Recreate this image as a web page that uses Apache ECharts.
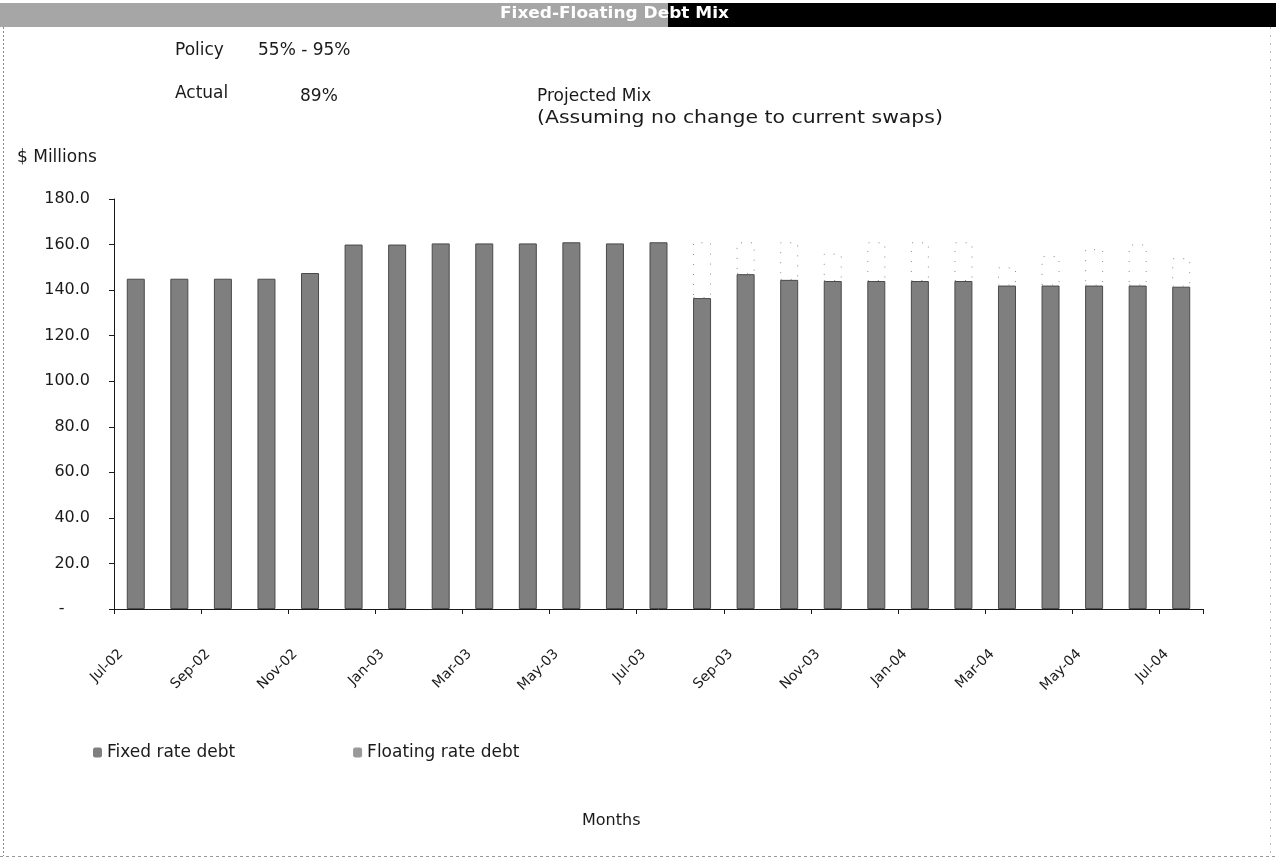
<!DOCTYPE html>
<html>
<head>
<meta charset="utf-8">
<script src="https://cdn.jsdelivr.net/npm/echarts@6/dist/echarts.min.js"></script>
<style>
  html, body { margin: 0; padding: 0; background: #ffffff; }
  #chart { width: 1276px; height: 863px; }
</style>
</head>
<body>
<div id="chart"></div>
<script>
// Month categories, Jul-02 through Jul-04
const months = [
  'Jul-02', 'Aug-02', 'Sep-02', 'Oct-02', 'Nov-02', 'Dec-02',
  'Jan-03', 'Feb-03', 'Mar-03', 'Apr-03', 'May-03', 'Jun-03',
  'Jul-03', 'Aug-03', 'Sep-03', 'Oct-03', 'Nov-03', 'Dec-03',
  'Jan-04', 'Feb-04', 'Mar-04', 'Apr-04', 'May-04', 'Jun-04', 'Jul-04'
];

// $ millions
const fixedDebt = [
  145, 145, 145, 145, 147.5, 160,
  160, 160.5, 160.5, 160.5, 161, 160.5,
  161, 136.5, 147, 144.5, 144, 144,
  144, 144, 142, 142, 142, 142, 141.5
];

// Floating portion of the projected months, stacked on the fixed portion
const floatingDebt = [
  null, null, null, null, null, null,
  null, null, null, null, null, null,
  null, 24.5, 14, 16.5, 12, 17,
  17, 17, 8, 13, 16, 18, 12.5
];

const yAxisMax = 180;
const yAxisStep = 20;

const FONT = 'DejaVu Sans';
const INK = '#1a1a1a';
const BAR_GREY = '#7f7f7f';

const chart = echarts.init(document.getElementById('chart'), null, { renderer: 'canvas' });

chart.setOption({
  animation: false,
  backgroundColor: '#ffffff',
  textStyle: { fontFamily: FONT, color: INK },
  grid: { left: 114, right: 73, top: 199, bottom: 254, containLabel: false },
  legend: {
    left: 88,
    top: 739,
    itemWidth: 9,
    itemHeight: 10,
    itemGap: 118,
    textStyle: { fontFamily: FONT, fontSize: 17, color: INK },
    data: [
      { name: 'Fixed rate debt', itemStyle: { color: BAR_GREY, borderWidth: 0 } },
      { name: 'Floating rate debt', itemStyle: { color: '#999999', borderWidth: 0 } }
    ]
  },
  xAxis: {
    type: 'category',
    data: months,
    boundaryGap: true,
    axisLine: { lineStyle: { color: INK, width: 1 } },
    axisTick: { show: true, interval: 1, length: 5, lineStyle: { color: INK } },
    axisLabel: {
      interval: 1,
      rotate: 45,
      margin: 28,
      padding: [0, 21, 0, 0],
      fontFamily: FONT,
      fontSize: 14,
      color: INK
    }
  },
  yAxis: {
    type: 'value',
    min: 0,
    max: yAxisMax,
    interval: yAxisStep,
    splitLine: { show: false },
    axisLine: { show: true, lineStyle: { color: INK, width: 1 } },
    axisTick: { show: true, length: 5, lineStyle: { color: INK } },
    axisLabel: {
      margin: 24,
      fontFamily: FONT,
      fontSize: 16,
      color: INK,
      formatter: v => (v === 0 ? '-     ' : v.toFixed(1))
    }
  },
  series: [
    {
      name: 'Fixed rate debt',
      type: 'bar',
      stack: 'debt',
      barWidth: 18,
      data: fixedDebt,
      itemStyle: { color: BAR_GREY, borderColor: '#4a4a4a', borderWidth: 1 }
    },
    {
      name: 'Floating rate debt',
      type: 'bar',
      stack: 'debt',
      barWidth: 18,
      data: floatingDebt,
      itemStyle: {
        color: 'rgba(255,255,255,0)',
        borderColor: '#8a8a8a',
        borderWidth: 1,
        borderType: [1, 9]
      }
    }
  ],
  graphic: [
    // heading band
    { type: 'rect', left: 0, top: 3, shape: { width: 668, height: 24 }, style: { fill: '#a6a6a6' }, silent: true },
    { type: 'rect', left: 668, top: 3, shape: { width: 608, height: 24 }, style: { fill: '#000000' }, silent: true },
    {
      type: 'text', x: 500, y: 6, scaleX: 1.06,
      style: { text: 'Fixed-Floating Debt Mix', fill: '#ffffff', font: 'bold 16px "DejaVu Sans"' }
    },
    // frame
    { type: 'line', shape: { x1: 3.5, y1: 27, x2: 3.5, y2: 856 }, style: { stroke: '#888', lineWidth: 1, lineDash: [2, 2] }, silent: true },
    { type: 'line', shape: { x1: 0, y1: 856.5, x2: 1276, y2: 856.5 }, style: { stroke: '#999', lineWidth: 1, lineDash: [3, 3] }, silent: true },
    { type: 'line', shape: { x1: 1270.5, y1: 27, x2: 1270.5, y2: 856 }, style: { stroke: '#bbb', lineWidth: 1, lineDash: [2, 6] }, silent: true },
    // annotations
    { type: 'text', x: 175, y: 42, style: { text: 'Policy', fill: INK, font: '17px "DejaVu Sans"' } },
    { type: 'text', x: 258, y: 42, style: { text: '55% - 95%', fill: INK, font: '17px "DejaVu Sans"' } },
    { type: 'text', x: 175, y: 85, style: { text: 'Actual', fill: INK, font: '17px "DejaVu Sans"' } },
    { type: 'text', x: 300, y: 88, style: { text: '89%', fill: INK, font: '17px "DejaVu Sans"' } },
    { type: 'text', x: 537, y: 88, style: { text: 'Projected Mix', fill: INK, font: '17px "DejaVu Sans"' } },
    { type: 'text', x: 537, y: 110, scaleX: 1.2, style: { text: '(Assuming no change to current swaps)', fill: INK, font: '17px "DejaVu Sans"' } },
    { type: 'text', x: 17, y: 149, style: { text: '$ Millions', fill: INK, font: '17px "DejaVu Sans"' } },
    { type: 'text', x: 582, y: 813, style: { text: 'Months', fill: INK, font: '16px "DejaVu Sans"' } }
  ]
});
</script>
</body>
</html>
